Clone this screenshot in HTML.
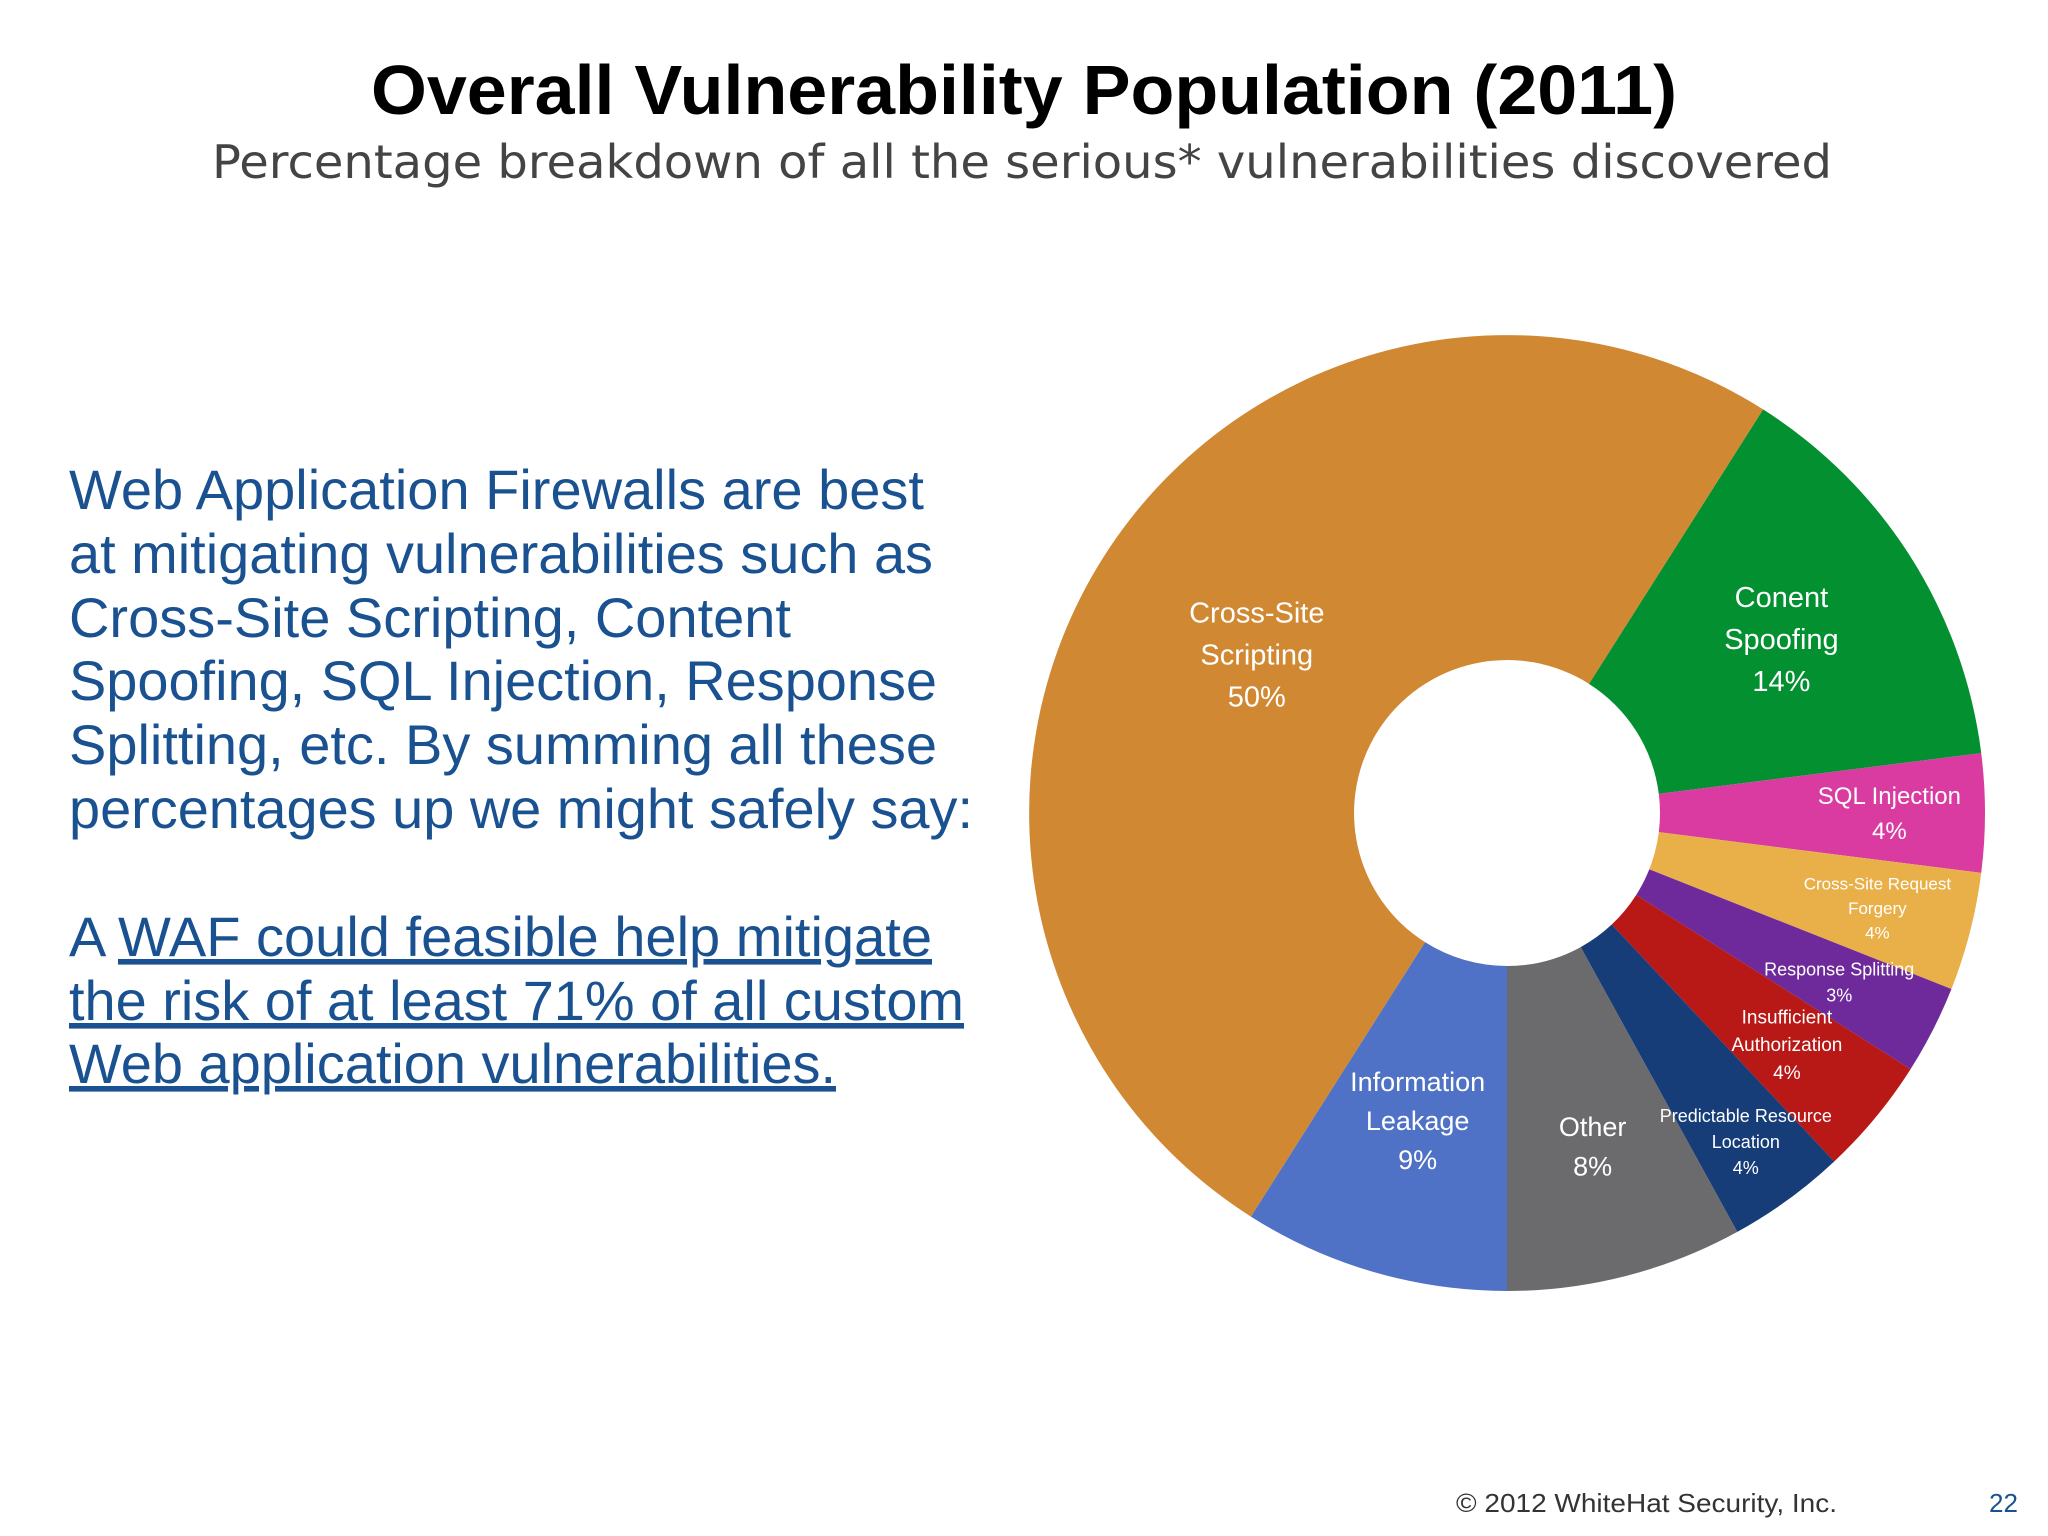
<!DOCTYPE html>
<html><head><meta charset="utf-8"><style>
html,body{margin:0;padding:0;background:#fff;}
svg{display:block;}
</style></head><body>
<svg id="chart" width="2048" height="1536" viewBox="0 0 2048 1536" xmlns="http://www.w3.org/2000/svg">
<rect width="2048" height="1536" fill="#fff"/>
<text x="1024" y="114" text-anchor="middle" textLength="1306" lengthAdjust="spacingAndGlyphs" font-family="Liberation Sans, sans-serif" font-weight="bold" font-size="70" fill="#000">Overall Vulnerability Population (2011)</text>
<text x="212" y="178" textLength="1620" lengthAdjust="spacingAndGlyphs" font-family="DejaVu Sans, sans-serif" font-size="46" fill="#444">Percentage breakdown of all the serious* vulnerabilities discovered</text>
<g font-family="Liberation Sans, sans-serif" font-size="56" fill="#1a5190">
<text x="69" y="509" textLength="855" lengthAdjust="spacingAndGlyphs">Web Application Firewalls are best</text>
<text x="69" y="573" textLength="864" lengthAdjust="spacingAndGlyphs">at mitigating vulnerabilities such as</text>
<text x="69" y="637" textLength="722" lengthAdjust="spacingAndGlyphs">Cross-Site Scripting, Content</text>
<text x="69" y="700" textLength="868" lengthAdjust="spacingAndGlyphs">Spoofing, SQL Injection, Response</text>
<text x="69" y="764" textLength="868" lengthAdjust="spacingAndGlyphs">Splitting, etc. By summing all these</text>
<text x="69" y="828" textLength="904" lengthAdjust="spacingAndGlyphs">percentages up we might safely say:</text>
<text x="69" y="956">A</text>
<text x="118" y="956" textLength="814" lengthAdjust="spacingAndGlyphs" text-decoration="underline">WAF could feasible help mitigate</text>
<text x="69" y="1020" textLength="895" lengthAdjust="spacingAndGlyphs" text-decoration="underline">the risk of at least 71% of all custom</text>
<text x="69" y="1083" textLength="767" lengthAdjust="spacingAndGlyphs" text-decoration="underline">Web application vulnerabilities.</text>
</g>
<g id="pie"></g>
<g id="labels" font-family="Liberation Sans, sans-serif" fill="#fff" text-anchor="middle"></g>
<text x="1456" y="1512" textLength="381" lengthAdjust="spacingAndGlyphs" font-family="Liberation Sans, sans-serif" font-size="26" fill="#333">© 2012 WhiteHat Security, Inc.</text>
<text x="1989" y="1512" font-family="Liberation Sans, sans-serif" font-size="26" fill="#1a5190">22</text>
</svg>
<script>
const categories = ["Conent Spoofing","SQL Injection","Cross-Site Request Forgery","Response Splitting","Insufficient Authorization","Predictable Resource Location","Other","Information Leakage","Cross-Site Scripting"];
const values = [14,4,4,3,4,4,8,9,50];
const colors = ["#039031","#d93ba0","#e9b04a","#6e2a9a","#b81816","#163d78","#6b6a6d","#4f72c6","#d08833"];
const labelLines = [["Conent","Spoofing","14%"],["SQL Injection","4%"],["Cross-Site Request","Forgery","4%"],["Response Splitting","3%"],["Insufficient","Authorization","4%"],["Predictable Resource","Location","4%"],["Other","8%"],["Information","Leakage","9%"],["Cross-Site","Scripting","50%"]];
const labelSizes = [29,24,17,18,19,18,27,27,29];
const labelRadius = [0.68,0.80,0.80,0.78,0.76,0.85,0.72,0.67,0.62];
const startDeg = 32.4;
const cx=1507, cy=813, R=478, r=153;
const NS="http://www.w3.org/2000/svg";
const pie=document.getElementById('pie'), lab=document.getElementById('labels');
const total=values.reduce((a,b)=>a+b,0);
function pt(deg,rad){const a=(deg-90)*Math.PI/180;return [cx+rad*Math.cos(a),cy+rad*Math.sin(a)];}
let acc=startDeg;
values.forEach((v,i)=>{
  const sweep=v/total*360, a0=acc, a1=acc+sweep; acc=a1;
  const large=sweep>180?1:0;
  const p0=pt(a0,R),p1=pt(a1,R),q1=pt(a1,r),q0=pt(a0,r);
  const path=document.createElementNS(NS,'path');
  path.setAttribute('d',`M${p0[0]},${p0[1]} A${R},${R} 0 ${large} 1 ${p1[0]},${p1[1]} L${q1[0]},${q1[1]} A${r},${r} 0 ${large} 0 ${q0[0]},${q0[1]} Z`);
  path.setAttribute('fill',colors[i]);
  
  
  pie.appendChild(path);
  const mid=(a0+a1)/2, c=pt(mid,R*labelRadius[i]);
  const fs=labelSizes[i], lh=fs*1.45, lines=labelLines[i];
  const t=document.createElementNS(NS,'text');
  
  
  t.setAttribute('font-size',fs);
  lines.forEach((ln,j)=>{
    const s=document.createElementNS(NS,'tspan');
    s.setAttribute('x',c[0]);
    s.setAttribute('y',c[1]+(j-(lines.length-1)/2)*lh+fs*0.35);
    s.textContent=ln;
    t.appendChild(s);
  });
  lab.appendChild(t);
});
</script>
</body></html>
